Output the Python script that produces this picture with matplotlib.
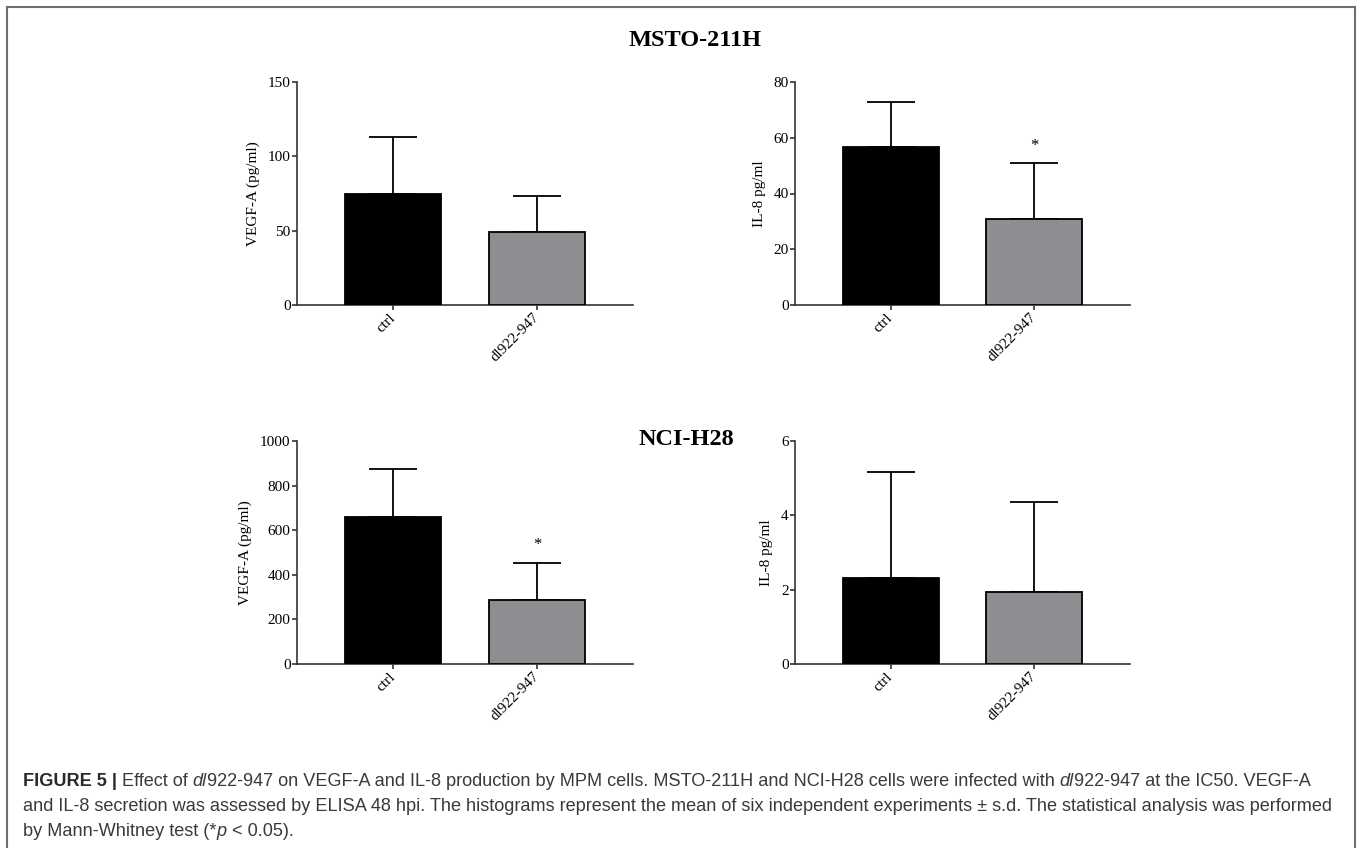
import matplotlib
matplotlib.use("Agg")
import matplotlib.pyplot as plt
from matplotlib.lines import Line2D

# ---------------- data ----------------
categories = ["ctrl", "dl922-947"]

msto_vegf_mean = [74.6, 49.3]
msto_vegf_sd = [38.2, 24.0]
msto_il8_mean = [56.8, 30.7]
msto_il8_sd = [16.0, 20.1]
nci_vegf_mean = [660.0, 287.0]
nci_vegf_sd = [214.0, 167.0]
nci_il8_mean = [2.31, 1.93]
nci_il8_sd = [2.86, 2.43]

msto_vegf_ticks = [0, 50, 100, 150]
msto_il8_ticks = [0, 20, 40, 60, 80]
nci_vegf_ticks = [0, 200, 400, 600, 800, 1000]
nci_il8_ticks = [0, 2, 4, 6]

ylabels = ["VEGF-A (pg/ml)", "IL-8 pg/ml", "VEGF-A (pg/ml)", "IL-8 pg/ml"]
significant = [[False, False], [False, True], [False, True], [False, False]]
titles = ["MSTO-211H", "NCI-H28"]

caption_lines = [
    [("FIGURE 5 | ", "bold"), ("Effect of ", "normal"), ("dl", "italic"),
     ("922-947 on VEGF-A and IL-8 production by MPM cells. MSTO-211H and NCI-H28 cells were infected with ", "normal"),
     ("dl", "italic"), ("922-947 at the IC50. VEGF-A", "normal")],
    [("and IL-8 secretion was assessed by ELISA 48 hpi. The histograms represent the mean of six independent experiments \u00b1 s.d. The statistical analysis was performed", "normal")],
    [("by Mann-Whitney test (*", "normal"), ("p", "italic"), (" < 0.05).", "normal")],
]

# ---------------- layout ----------------
W, H = 1360, 848
DPI = 100
fig = plt.figure(figsize=(W / DPI, H / DPI), dpi=DPI)
fig.patch.set_facecolor("white")

SERIF = ["Liberation Serif", "DejaVu Serif"]
SANS = ["Liberation Sans", "DejaVu Sans"]
bar_colors = ["#000000", "#8e8d92"]
spine_col = "#333333"


def px_axes(left, top, right, bottom):
    return fig.add_axes([left / W, 1 - bottom / H, (right - left) / W, (bottom - top) / H])


panels = [
    (px_axes(297, 82, 633, 305), msto_vegf_mean, msto_vegf_sd, msto_vegf_ticks),
    (px_axes(795, 82, 1130, 305), msto_il8_mean, msto_il8_sd, msto_il8_ticks),
    (px_axes(297, 441, 633, 664), nci_vegf_mean, nci_vegf_sd, nci_vegf_ticks),
    (px_axes(795, 441, 1130, 664), nci_il8_mean, nci_il8_sd, nci_il8_ticks),
]

x = [0, 1]
for i, (ax, mean, sd, ticks) in enumerate(panels):
    ax.bar(x, mean, width=0.667, color=bar_colors, edgecolor="black", linewidth=1.3, zorder=3)
    ax.errorbar(x, mean, yerr=[[0, 0], sd], fmt="none", ecolor="black",
                elinewidth=1.3, capsize=17, capthick=1.3, zorder=2)
    ax.set_xlim(-0.667, 1.667)
    ax.set_ylim(ticks[0], ticks[-1])
    ax.set_yticks(ticks)
    ax.set_yticklabels([str(t) for t in ticks], family=SERIF, fontsize=11)
    ax.set_xticks(x)
    ax.set_xticklabels(categories, family=SERIF, fontsize=11, rotation=45,
                       ha="right", va="center", rotation_mode="anchor")
    for s in ["top", "right"]:
        ax.spines[s].set_visible(False)
    for s in ["left", "bottom"]:
        ax.spines[s].set_color(spine_col)
        ax.spines[s].set_linewidth(1.2)
    ax.tick_params(axis="y", direction="out", length=3.6, width=1.2, color=spine_col, pad=1)
    ax.tick_params(axis="x", direction="out", length=3.6, width=1.2, color=spine_col, pad=4)
    ax.set_ylabel(ylabels[i], family=SERIF, fontsize=11, labelpad=5.5)
    for j in range(2):
        if significant[i][j]:
            ax.annotate("*", xy=(x[j], mean[j] + sd[j]), xytext=(0, 7), textcoords="offset points",
                        ha="center", va="bottom", family=SERIF, fontsize=12, zorder=4)

# panel titles
fig.text(695 / W, 1 - 46 / H, titles[0], ha="center", va="baseline",
         family=SERIF, fontsize=17.5, fontweight="bold")
fig.text(686 / W, 1 - 445 / H, titles[1], ha="center", va="baseline",
         family=SERIF, fontsize=17.5, fontweight="bold")

# figure frame (open at the bottom)
frame_col = "#6e6e6e"
for xs, ys in [([7, 7], [7, H]), ([7, 1355], [7, 7]), ([1355, 1355], [7, H])]:
    fig.add_artist(Line2D([v / W for v in xs], [1 - v / H for v in ys],
                          transform=fig.transFigure, color=frame_col, lw=1.5))

# caption with mixed styles
renderer = fig.canvas.get_renderer()


def text_width(s, style, size):
    kw = dict(fontsize=size, family=SANS)
    if style == "bold":
        kw["fontweight"] = "bold"
    elif style == "italic":
        kw["fontstyle"] = "italic"
    t1 = fig.text(0, 0, "|" + s + "|", **kw)
    t2 = fig.text(0, 0, "||", **kw)
    w = t1.get_window_extent(renderer).width - t2.get_window_extent(renderer).width
    t1.remove()
    t2.remove()
    return w


def line_width(segs, size):
    return sum(text_width(s, st, size) for s, st in segs)


cap_size = 12.3
target = 1321 - 23
cap_size = cap_size * target / line_width(caption_lines[0], cap_size)

baselines = [786, 811, 836]
for segs, yb in zip(caption_lines, baselines):
    xp = 23
    for s, st in segs:
        kw = dict(fontsize=cap_size, family=SANS, va="baseline", ha="left",
                  color="#2a2a2a" if st == "bold" else "#3a3a3a")
        if st == "bold":
            kw["fontweight"] = "bold"
        elif st == "italic":
            kw["fontstyle"] = "italic"
        fig.text(xp / W, 1 - yb / H, s, **kw)
        xp += text_width(s, st, cap_size)

fig.savefig("out.png", dpi=DPI, facecolor="white")
